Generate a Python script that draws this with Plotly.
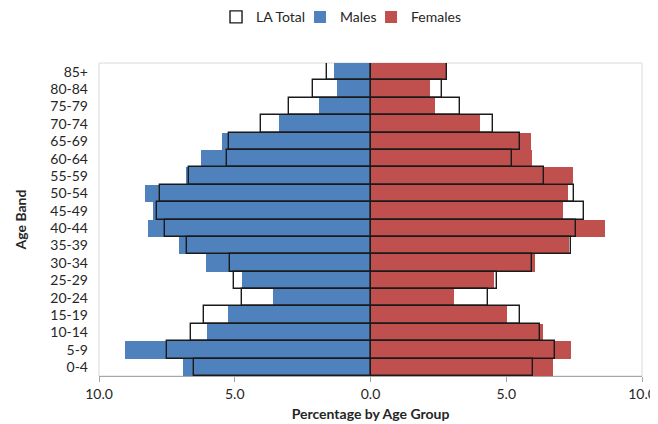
import plotly.graph_objects as go

age_bands = ["0-4", "5-9", "10-14", "15-19", "20-24", "25-29", "30-34", "35-39",
             "40-44", "45-49", "50-54", "55-59", "60-64", "65-69", "70-74",
             "75-79", "80-84", "85+"]

males = [6.89, 9.04, 6.04, 5.25, 3.60, 4.73, 6.06, 7.04, 8.19, 8.02, 8.30,
         6.80, 6.26, 5.47, 3.36, 1.91, 1.23, 1.35]
females = [6.73, 7.38, 6.34, 5.01, 3.08, 4.55, 6.07, 7.32, 8.62, 7.10, 7.28,
           7.47, 5.93, 5.90, 4.02, 2.36, 2.18, 2.82]
la_total_males = [6.49, 7.48, 6.63, 6.14, 4.73, 5.03, 5.19, 6.76, 7.56, 7.87,
                  7.77, 6.70, 5.29, 5.20, 4.03, 2.99, 2.13, 1.62]
la_total_females = [5.99, 6.80, 6.26, 5.52, 4.33, 4.65, 5.94, 7.37, 7.58, 7.85,
                    7.50, 6.40, 5.23, 5.52, 4.51, 3.31, 2.63, 2.82]

tick_vals = [-10, -5, 0, 5, 10]
tick_text = ["10.0", "5.0", "0.0", "5.0", "10.0"]

BLUE = "#4F81BD"
RED = "#C0504D"
FONT = "Lato"

fig = go.Figure()
fig.add_trace(go.Bar(
    y=age_bands, x=[-v for v in males], orientation="h", name="Males",
    marker=dict(color=BLUE, line=dict(width=0)), legendrank=2, legendwidth=26,
))
fig.add_trace(go.Bar(
    y=age_bands, x=females, orientation="h", name="Females",
    marker=dict(color=RED, line=dict(width=0)), legendrank=3, legendwidth=52,
))
fig.add_trace(go.Bar(
    y=age_bands, x=[-v for v in la_total_males], orientation="h", name="LA Total",
    marker=dict(color="rgba(255,255,255,0)", line=dict(color="#1a1a1a", width=1.4)),
    legendgroup="la", legendrank=1, legendwidth=39,
))
fig.add_trace(go.Bar(
    y=age_bands, x=la_total_females, orientation="h", name="LA Total",
    marker=dict(color="rgba(255,255,255,0)", line=dict(color="#1a1a1a", width=1.4)),
    legendgroup="la", showlegend=False, legendrank=1,
))

fig.update_layout(
    width=650, height=416,
    barmode="overlay", bargap=0,
    paper_bgcolor="white", plot_bgcolor="white",
    margin=dict(l=91, r=16, t=55, b=48, autoexpand=False),
    font=dict(family=FONT, size=14, color="#262626"),
    legend=dict(orientation="h", x=0.2155, xanchor="left", y=1.146, yanchor="middle",
                font=dict(size=14, family=FONT),
                itemwidth=30, tracegroupgap=0),
    xaxis=dict(range=[-10, 10], tickvals=tick_vals, ticktext=tick_text,
               showgrid=False, zeroline=False, showline=True,
               linecolor="#a6a6a6", linewidth=1, ticks="outside", ticklen=5,
               tickcolor="#a6a6a6", tickfont=dict(size=14), automargin=False,
               title=dict(text="<b>Percentage by Age Group</b>", font=dict(size=14), standoff=8)),
    yaxis=dict(type="category", categoryorder="array", categoryarray=age_bands,
               showgrid=False, zeroline=False, showline=False, ticks="",
               tickfont=dict(size=14), ticklabelstandoff=10, automargin=False,
               title=dict(text="<b>Age Band</b>", font=dict(size=14), standoff=20)),
    shapes=[dict(type="rect", xref="paper", yref="paper", x0=0, x1=1, y0=0, y1=1,
                 line=dict(color="#d9d9d9", width=1), layer="below")],
)

fig.write_html("out.html")
